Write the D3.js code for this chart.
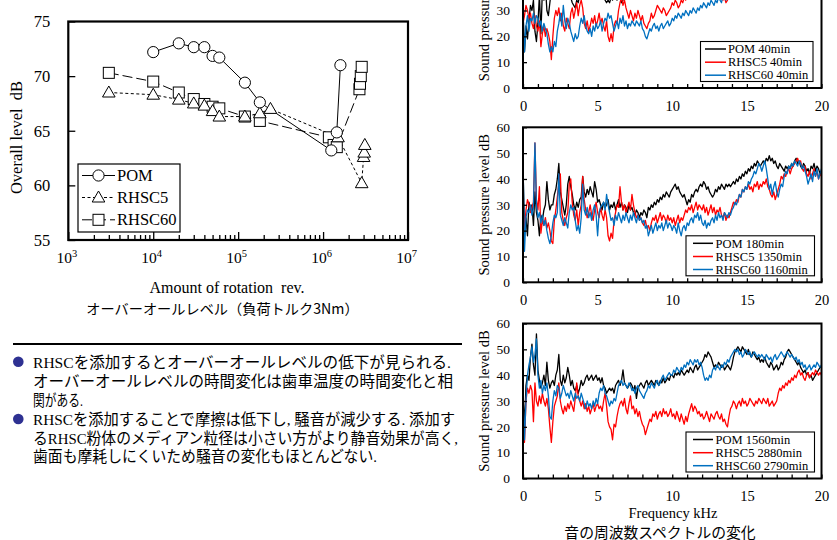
<!DOCTYPE html>
<html><head><meta charset="utf-8">
<script src="https://cdn.jsdelivr.net/npm/d3@7"></script>
<style>body{margin:0;background:#fff} svg{display:block}</style>
</head><body>
<svg id="c" width="837" height="540"></svg>
<script>
// ---------- Overall level data ----------
const leftXTicks = [1e3, 1e4, 1e5, 1e6, 1e7];
const leftYTicks = [55, 60, 65, 70, 75];
const pomRev    = [1e4, 2e4, 3e4, 4e4, 5e4, 6e4, 1.2e5, 1.8e5, 1.25e6, 1.45e6, 1.6e6];
const pomLevel  = [72.2, 73.0, 72.65, 72.65, 71.85, 71.7, 69.4, 67.6, 63.2, 64.85, 71.0];
const rhsc5Rev   = [3e3, 1e4, 2e4, 3e4, 4e4, 5e4, 6e4, 1.2e5, 1.8e5, 2.4e5, 1.5e6, 2.85e6, 3.0e6, 3.05e6, 3.1e6];
const rhsc5Level = [68.5, 68.3, 67.85, 67.5, 67.3, 66.8, 66.3, 66.3, 66.6, 67.0, 64.4, 60.2, 62.6, 63.0, 63.7];
const rhsc60Rev   = [3e3, 1e4, 2e4, 3e4, 4e4, 5e4, 6e4, 1.2e5, 1.8e5, 1.17e6, 1.33e6, 1.45e6, 2.68e6, 2.72e6, 2.78e6, 2.85e6];
const rhsc60Level = [70.3, 69.5, 68.5, 67.9, 67.45, 67.2, 67.05, 66.3, 65.9, 64.4, 63.7, 63.5, 68.8, 69.3, 70.0, 70.85];

// ---------- Spectrum data (0–20 kHz, 0.1 kHz step) ----------
const specXTicks = [0, 5, 10, 15, 20];
const specYTicks = [0, 10, 20, 30, 40, 50, 60];
const freqKHz = d3.range(201).map(i => i / 10);

const pom40 = [
 30,14,24,19,26,32,30,34,22,18,25,36,21,38,34,40,30,28,33,38,
 36,40,38,42,45,38,36,39,41,37,40,38,35,33,32,31,34,33,36,38,
 40,37,39,36,38,40,37,39,36,38,37,36,38,35,37,34,33,34,33,35,
 34,36,35,34,36,35,33,34,35,36,37,35,36,38,37,36,38,37,39,38,
 37,39,38,40,39,41,40,39,41,42,40,42,41,43,42,41,43,44,42,43,
 44,43,45,44,46,45,43,44,46,45,44,46,45,47,46,45,44,46,45,47,
 46,45,47,46,48,47,45,46,44,45,46,47,45,46,47,48,46,47,48,49,
 48,49,50,49,51,50,49,50,48,49,50,48,49,47,48,49,48,47,48,47,
 46,47,48,46,47,45,46,47,45,46,47,48,46,47,48,49,48,47,48,46,
 47,46,45,46,44,45,46,44,45,43,44,45,43,44,42,43,44,45,43,44,
 44];
const rhsc5_40 = [
 25,28,32,30,27,29,25,23,28,24,22,26,16,21,24,20,23,21,18,11,
 20,27,30,28,31,26,29,24,22,27,25,23,29,31,27,30,33,28,32,34,
 31,25,23,26,22,24,27,25,28,24,26,29,25,27,24,22,26,20,18,21,
 18,24,26,25,30,33,35,32,34,31,29,27,30,28,26,29,27,30,28,26,
 28,25,24,23,25,26,29,27,28,30,32,31,30,29,31,30,28,29,30,31,
 33,32,34,33,31,32,34,33,35,34,36,35,37,36,35,37,38,36,37,38,
 38,37,39,38,37,38,36,37,38,36,37,35,36,35,34,35,33,34,36,35,
 37,38,39,38,40,39,41,40,42,41,40,42,41,43,42,44,43,42,44,43,
 44,43,45,44,43,45,44,46,45,44,46,45,47,46,45,47,46,48,47,46,
 47,46,45,46,44,45,46,44,45,43,44,45,43,44,42,43,44,43,42,44,
 43];
const rhsc60_40 = [
 30,14,24,28,22,27,26,29,25,28,27,24,26,22,25,23,21,17,14,16,
 14,18,16,22,25,29,24,32,26,23,27,25,22,20,18,21,19,20,24,27,
 25,28,24,22,21,23,20,24,22,25,23,24,26,22,25,27,26,29,27,28,
 25,22,24,26,23,27,25,28,24,26,23,25,24,26,25,24,26,25,24,26,
 23,22,20,19,21,23,22,24,25,23,24,22,24,25,23,24,25,26,24,25,
 27,26,28,27,29,28,27,29,28,30,29,28,30,29,31,30,29,31,30,32,
 31,33,32,31,33,32,34,33,32,34,33,35,34,33,36,35,34,36,37,36,
 37,38,37,39,38,40,39,41,40,42,41,43,42,41,43,44,43,45,44,43,
 45,44,46,45,44,46,45,47,46,45,47,46,45,47,46,48,47,46,47,45,
 46,45,44,46,43,44,45,43,44,42,43,44,42,43,41,42,43,44,42,43,
 42];

const pom180 = [
 45,20,25,18,31,28,30,22,35,27,24,18,26,24,28,30,39,32,28,30,
 30,34,36,40,46,35,32,29,26,30,38,41,37,34,30,28,31,29,32,33,
 41,35,33,36,34,37,35,33,39,36,31,32,30,28,31,29,30,32,28,30,
 29,31,28,30,32,29,31,28,30,29,27,30,28,29,27,26,28,27,25,27,
 26,28,27,25,29,28,30,29,31,30,32,31,33,32,34,33,35,34,33,35,
 36,37,38,36,37,35,34,33,34,32,30,32,31,34,33,35,36,35,37,38,
 37,39,38,36,37,35,34,33,34,36,35,37,36,38,37,36,38,37,38,37,
 38,39,38,40,39,41,40,42,41,43,42,44,43,45,44,46,45,47,46,45,
 46,47,46,48,47,49,47,48,46,47,45,44,46,45,44,43,45,44,45,44,
 46,45,47,48,46,47,45,44,46,45,43,44,42,45,44,46,43,45,44,42,
 43];
const rhsc5_1350 = [
 30,20,28,32,30,27,29,31,54,32,28,37,19,24,22,25,21,23,20,16,
 15,24,28,33,38,42,27,24,22,25,27,38,40,31,26,24,28,22,27,30,
 41,32,28,25,27,30,26,24,28,31,27,25,29,26,24,28,25,18,16,19,
 17,24,27,30,29,37,31,28,30,27,29,31,28,34,30,27,25,26,24,25,
 23,22,24,21,22,20,23,25,24,26,23,25,27,24,26,25,23,26,24,25,
 23,25,22,24,26,23,25,24,26,28,27,29,28,30,27,29,31,28,30,29,
 28,30,27,29,26,28,30,27,29,26,28,27,29,26,25,27,24,26,25,27,
 29,31,30,32,31,34,33,36,35,37,36,38,36,37,35,38,37,39,36,38,
 37,39,38,40,37,36,34,33,35,32,34,36,38,41,40,42,41,43,44,42,
 44,45,46,47,48,46,47,44,43,45,42,41,43,40,42,44,41,43,40,42,
 41];
const rhsc60_1160 = [
 48,12,25,28,27,30,26,29,54,30,25,27,23,26,22,24,20,17,15,18,
 23,26,25,27,42,26,24,22,25,23,21,27,30,28,29,24,20,22,19,25,
 38,28,26,29,25,27,24,28,30,26,18,27,29,30,31,28,34,30,27,24,
 25,22,26,24,27,25,23,26,24,27,25,23,26,24,27,25,23,26,24,25,
 23,24,21,22,18,20,22,19,21,23,20,22,21,23,20,22,24,21,23,22,
 20,22,21,19,23,20,18,21,22,20,23,22,24,25,23,26,25,27,24,26,
 23,22,24,21,23,22,24,25,23,26,24,27,25,26,24,27,26,25,27,26,
 28,29,31,30,32,34,33,36,35,37,36,39,38,40,41,43,42,44,46,45,
 43,45,47,44,40,36,38,34,37,39,35,33,36,38,37,41,43,42,45,44,
 46,45,47,46,45,47,46,44,45,43,41,38,40,42,39,43,41,44,40,42,
 44];

const pom1560 = [
 33,20,36,40,38,47,52,44,40,56,42,38,35,37,40,36,45,38,35,37,
 38,36,40,42,48,38,36,40,37,39,43,40,36,38,35,34,36,33,35,38,
 36,37,39,40,38,39,40,38,39,40,38,39,37,39,36,35,33,34,35,34,
 35,33,36,37,38,36,38,42,37,36,35,36,37,36,34,36,31,35,36,37,
 36,35,37,38,36,37,38,37,36,38,37,36,38,37,39,37,38,39,38,40,
 40,39,41,40,41,40,42,41,40,41,42,41,43,42,41,43,44,42,43,44,
 45,46,48,47,49,48,47,45,43,44,43,45,44,43,44,42,43,44,43,42,
 44,47,49,50,51,50,49,51,50,49,48,50,48,47,49,48,47,46,47,45,
 46,45,47,45,44,43,45,44,42,43,44,42,43,45,44,46,47,49,50,49,
 48,47,46,45,44,45,43,42,41,42,40,41,39,40,38,39,40,41,42,43,
 43];
const rhsc5_2880 = [
 22,14,30,35,33,36,34,22,37,30,28,32,29,33,30,28,31,27,20,14,
 22,28,30,32,37,30,27,25,28,26,29,27,30,28,26,31,37,32,30,28,
 30,27,29,26,28,25,27,29,26,28,29,27,28,26,30,33,28,22,20,19,
 15,21,20,24,27,29,30,28,31,27,25,29,32,27,28,25,27,24,26,23,
 21,20,17,19,21,23,22,25,24,26,23,25,26,24,27,25,26,24,25,27,
 24,25,23,26,24,22,25,23,21,24,22,25,27,29,26,28,27,25,26,24,
 25,23,24,26,24,22,25,24,23,25,26,24,23,25,22,23,21,20,24,27,
 28,30,29,27,29,30,28,31,29,30,28,29,31,30,29,28,30,29,31,30,
 29,31,30,29,31,28,29,30,28,29,30,33,35,34,36,35,37,36,38,37,
 39,38,40,39,41,42,40,41,39,38,40,41,39,40,41,40,42,41,40,41,
 40];
const rhsc60_2790 = [
 33,15,30,40,44,47,51,45,48,54,40,35,38,33,36,34,37,32,24,23,
 30,34,32,36,35,31,33,36,34,32,33,31,34,32,30,33,31,32,30,33,
 31,29,27,30,28,29,27,30,28,31,29,33,35,34,36,33,32,30,28,30,
 29,31,30,33,36,37,38,36,37,36,35,37,36,34,35,33,35,36,34,33,
 32,31,33,34,36,35,37,36,35,37,38,36,37,39,40,38,39,40,41,40,
 40,42,41,43,42,41,43,42,44,43,45,44,46,45,44,46,45,46,44,45,
 43,40,38,39,38,40,39,42,43,42,44,43,42,44,43,45,44,46,45,47,
 48,49,50,49,50,48,49,47,48,50,49,48,49,47,48,49,48,47,48,47,
 48,47,46,48,47,46,47,45,47,48,46,47,48,49,48,47,48,49,48,47,
 48,47,46,47,45,46,44,45,43,44,42,43,44,42,43,44,43,45,44,43,
 44];

const panelLegends = [
  ["POM 40min", "RHSC5 40min", "RHSC60 40min"],
  ["POM 180min", "RHSC5 1350min", "RHSC60 1160min"],
  ["POM 1560min", "RHSC5 2880min", "RHSC60 2790min"]
];
const panelSeries = [
  [pom40, rhsc5_40, rhsc60_40],
  [pom180, rhsc5_1350, rhsc60_1160],
  [pom1560, rhsc5_2880, rhsc60_2790]
];

// ---------- drawing ----------
const svg = d3.select("#c");
const serif = "'Liberation Serif','Times New Roman',serif";
const cjk = "'Noto Sans CJK JP','Noto Sans',sans-serif";
const mixed = "'Liberation Serif','Noto Sans CJK JP',serif";

// ===== Left chart =====
const L = {x0: 68.3, x1: 408, y0: 21.5, y1: 240};
const xL = d3.scaleLog().domain([1e3, 1e7]).range([L.x0, L.x1]);
const yL = d3.scaleLinear().domain([55, 75]).range([L.y1, L.y0]);
const gL = svg.append("g");

const minor = [];
for (let e = 3; e < 7; e++) for (let k = 2; k <= 9; k++) minor.push(k * Math.pow(10, e));

const axMinor = gL.append("g").attr("transform", `translate(0,${L.y1})`)
  .call(d3.axisBottom(xL).tickValues(minor).tickSize(-5).tickFormat(""));
axMinor.select(".domain").remove();
axMinor.selectAll("line").attr("stroke", "#000").attr("stroke-width", 1.3);

const axMajor = gL.append("g").attr("transform", `translate(0,${L.y1})`)
  .call(d3.axisBottom(xL).tickValues(leftXTicks).tickSize(-8).tickFormat(""));
axMajor.select(".domain").remove();
axMajor.selectAll("line").attr("stroke", "#000").attr("stroke-width", 1.3);
axMajor.selectAll(".tick").append("text")
  .attr("x", -2).attr("y", 23).attr("text-anchor", "middle")
  .attr("fill", "#000").style("font-family", serif).style("font-size", "15.5px")
  .each(function(d) {
    const t = d3.select(this);
    t.append("tspan").text("10");
    t.append("tspan").attr("dy", -6).style("font-size", "10.5px").text(Math.round(Math.log10(d)));
  });

const axY = gL.append("g").attr("transform", `translate(${L.x0},0)`)
  .call(d3.axisLeft(yL).tickValues(leftYTicks).tickSize(-7).tickPadding(18));
axY.select(".domain").remove();
axY.selectAll("line").attr("stroke", "#000").attr("stroke-width", 1.3);
axY.selectAll("text").attr("fill", "#000").style("font-family", serif).style("font-size", "16.5px");

gL.append("rect").attr("x", L.x0).attr("y", L.y0).attr("width", L.x1 - L.x0).attr("height", L.y1 - L.y0)
  .attr("fill", "none").attr("stroke", "#000").attr("stroke-width", 2.2);

const seriesL = [
  {x: pomRev, y: pomLevel, dash: null, mark: "circle", name: "POM"},
  {x: rhsc5Rev, y: rhsc5Level, dash: "3,2.5", mark: "tri", name: "RHSC5"},
  {x: rhsc60Rev, y: rhsc60Level, dash: "10,4", mark: "sq", name: "RHSC60"}
];
function drawMarker(g, type, cx, cy) {
  if (type === "circle") {
    g.append("circle").attr("cx", cx).attr("cy", cy).attr("r", 5.6)
      .attr("fill", "#fff").attr("stroke", "#000").attr("stroke-width", 1);
  } else if (type === "tri") {
    g.append("path").attr("d", `M${cx},${cy - 6.5}L${cx + 6.3},${cy + 4.5}L${cx - 6.3},${cy + 4.5}Z`)
      .attr("fill", "#fff").attr("stroke", "#000").attr("stroke-width", 1);
  } else {
    g.append("rect").attr("x", cx - 5.5).attr("y", cy - 5.5).attr("width", 11).attr("height", 11)
      .attr("fill", "#fff").attr("stroke", "#000").attr("stroke-width", 1);
  }
}
const lineL = d3.line();
seriesL.forEach(s => {
  const pts = s.x.map((v, i) => [xL(v), yL(s.y[i])]);
  gL.append("path").attr("d", lineL(pts)).attr("fill", "none").attr("stroke", "#000")
    .attr("stroke-width", 1).attr("stroke-dasharray", s.dash);
});
seriesL.slice().reverse().forEach(s => {
  s.x.forEach((v, i) => drawMarker(gL, s.mark, xL(v), yL(s.y[i])));
});

// left legend
gL.append("rect").attr("x", 78).attr("y", 164).attr("width", 102).attr("height", 68)
  .attr("fill", "#fff").attr("stroke", "#000").attr("stroke-width", 1.2);
[175.5, 197.5, 219.8].forEach((cy, i) => {
  const s = seriesL[i];
  gL.append("line").attr("x1", 82).attr("x2", 115).attr("y1", cy).attr("y2", cy)
    .attr("stroke", "#000").attr("stroke-width", 1).attr("stroke-dasharray", s.dash);
  drawMarker(gL, s.mark, 98.5, cy);
  gL.append("text").attr("x", 117).attr("y", cy + 5.6).text(s.name)
    .style("font-family", serif).style("font-size", "16.5px");
});

// left labels
svg.append("text").attr("transform", "translate(21.5,137.5) rotate(-90)")
  .attr("text-anchor", "middle").style("font-family", serif).style("font-size", "16.5px")
  .attr("xml:space", "preserve").text("Overall level  dB");
svg.append("text").attr("x", 227).attr("y", 292.5).attr("text-anchor", "middle")
  .style("font-family", serif).style("font-size", "16px").attr("xml:space", "preserve")
  .text("Amount of rotation  rev.");
svg.append("text").attr("x", 222.5).attr("y", 313.5).attr("text-anchor", "middle")
  .style("font-family", cjk).style("font-size", "14.2px")
  .text("オーバーオールレベル（負荷トルク3Nm）");

// bullets
svg.append("line").attr("x1", 13).attr("x2", 462).attr("y1", 344).attr("y2", 344)
  .attr("stroke", "#000").attr("stroke-width", 2);
const bulletLines = [
  "RHSCを添加するとオーバーオールレベルの低下が見られる.",
  "オーバーオールレベルの時間変化は歯車温度の時間変化と相",
  "関がある.",
  "RHSCを添加することで摩擦は低下し, 騒音が減少する. 添加す",
  "るRHSC粉体のメディアン粒径は小さい方がより静音効果が高く,",
  "歯面も摩耗しにくいため騒音の変化もほとんどない."
];
const bulletBase = [367.5, 387.2, 405.8, 424.8, 443.5, 462.2];
const bulletWidth = [418, 420, 50, 422, 425, 344];
bulletLines.forEach((t, i) => {
  svg.append("text").attr("x", 33).attr("y", bulletBase[i]).text(t)
    .attr("xml:space", "preserve")
    .attr("textLength", bulletWidth[i]).attr("lengthAdjust", "spacingAndGlyphs")
    .style("font-family", mixed).style("font-size", "15.5px");
});
[361.7, 419].forEach(cy => svg.append("circle").attr("cx", 18.3).attr("cy", cy).attr("r", 5.3).attr("fill", "#2e3192"));

// ===== Spectrum panels =====
const PX = {x0: 523, x1: 821.5};
const panels = [{top: -67, bot: 88}, {top: 127.3, bot: 282.3}, {top: 323.5, bot: 478.5}];
const colors = ["#000000", "#ff0000", "#0070c0"];
const xS = d3.scaleLinear().domain([0, 20]).range([PX.x0, PX.x1]);

panels.forEach((p, pi) => {
  const g = svg.append("g");
  const yS = d3.scaleLinear().domain([0, 60]).range([p.bot, p.top]);
  const line = d3.line().x((d, i) => xS(freqKHz[i])).y(d => yS(d));
  panelSeries[pi].forEach((arr, si) => {
    g.append("path").attr("d", line(arr)).attr("fill", "none")
      .attr("stroke", colors[si]).attr("stroke-width", 1.3).attr("stroke-linejoin", "round");
  });
  const ax = g.append("g").attr("transform", `translate(0,${p.bot})`)
    .call(d3.axisBottom(xS).tickValues(d3.range(0, 21)).tickSize(-4).tickPadding(12.5)
      .tickFormat(d => specXTicks.includes(d) ? d : ""));
  ax.select(".domain").remove();
  ax.selectAll("line").attr("stroke", "#000").attr("stroke-width", 1.3);
  ax.selectAll("text").attr("fill", "#000").style("font-family", serif).style("font-size", "14.5px");
  const ay = g.append("g").attr("transform", `translate(${PX.x0},0)`)
    .call(d3.axisLeft(yS).tickValues(specYTicks).tickSize(-4).tickPadding(13));
  ay.select(".domain").remove();
  ay.selectAll("line").attr("stroke", "#000").attr("stroke-width", 1.3);
  ay.selectAll("text").attr("fill", "#000").style("font-family", serif).style("font-size", "13.5px");
  // labels lying completely above the picture are not drawn
  ay.selectAll(".tick").filter(d => yS(d) < 0).select("text").remove();
  g.append("rect").attr("x", PX.x0).attr("y", p.top).attr("width", PX.x1 - PX.x0).attr("height", p.bot - p.top)
    .attr("fill", "none").attr("stroke", "#000").attr("stroke-width", 2);
  // legend
  const lx0 = pi === 0 ? 700.5 : 686, lx1 = pi === 0 ? 813 : 814.5;
  const ly1 = p.bot - 6.5, ly0 = ly1 - 40;
  g.append("rect").attr("x", lx0).attr("y", ly0).attr("width", lx1 - lx0).attr("height", ly1 - ly0)
    .attr("fill", "#fff").attr("stroke", "#000").attr("stroke-width", 1.1);
  const sx0 = pi === 0 ? 705 : 693, sx1 = pi === 0 ? 726 : 713, tx = pi === 0 ? 728 : 715.5;
  [7.5, 20.7, 33.7].forEach((dy, k) => {
    const cy = ly0 + dy;
    g.append("line").attr("x1", sx0).attr("x2", sx1).attr("y1", cy).attr("y2", cy)
      .attr("stroke", colors[k]).attr("stroke-width", 1.5);
    g.append("text").attr("x", tx).attr("y", cy + 4.2).text(panelLegends[pi][k])
      .style("font-family", serif).style("font-size", "12.5px");
  });
  // y label
  g.append("text").attr("transform", `translate(489,${(p.top + p.bot) / 2}) rotate(-90)`)
    .attr("text-anchor", "middle").style("font-family", serif).style("font-size", "14.5px")
    .text("Sound pressure level dB");
});

svg.append("text").attr("x", 673).attr("y", 518).attr("text-anchor", "middle")
  .style("font-family", serif).style("font-size", "14.5px").text("Frequency kHz");
svg.append("text").attr("x", 660).attr("y", 537.5).attr("text-anchor", "middle")
  .style("font-family", cjk).style("font-size", "14.8px").text("音の周波数スペクトルの変化");
</script>
</body></html>
